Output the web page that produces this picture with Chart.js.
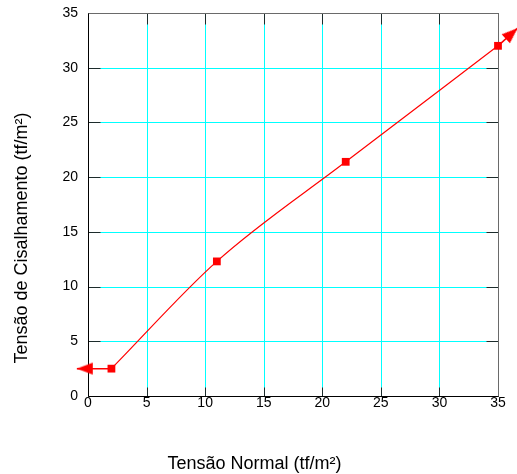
<!DOCTYPE html>
<html>
<head>
<meta charset="utf-8">
<script src="https://cdn.jsdelivr.net/npm/chart.js@4/dist/chart.umd.min.js"></script>
<style>
  html, body { margin: 0; padding: 0; background: #ffffff; }
  #wrap { width: 517px; height: 474px; }
</style>
</head>
<body>
<div id="wrap"><canvas id="chart" width="517" height="474"></canvas></div>
<script>
// Shear envelope: normal stress vs. shear stress (tf/m²)
const normalStress = [2, 11, 22, 35];
const shearStress = [2.5, 12.3, 21.4, 32];

// Envelope extensions past the tested range, drawn as arrows
const leftArrowX = [2, -0.95];
const leftArrowY = [2.5, 2.5];
const rightArrowX = [35, 36.68];
const rightArrowY = [32, 33.62];

// Axis tick values
const xTicks = [0, 5, 10, 15, 20, 25, 30, 35];
const yTicks = [0, 5, 10, 15, 20, 25, 30, 35];

const xTitle = 'Tensão Normal (tf/m²)';
const yTitle = 'Tensão de Cisalhamento (tf/m²)';

const FONT = '"Liberation Sans", Arial, sans-serif';
const RED = '#ff0000';
const GRID = '#00ffff';

function toPoints(xs, ys) {
  return xs.map((x, i) => ({ x: x, y: ys[i] }));
}

// Arrowhead bitmap: tip at the centre, pointing right
function makeArrowHead(len, halfW) {
  const c = document.createElement('canvas');
  const s = Math.ceil(len * 2 + 2);
  c.width = s; c.height = s;
  const g = c.getContext('2d');
  const cx = s / 2, cy = s / 2;
  g.fillStyle = RED;
  g.beginPath();
  g.moveTo(cx, cy);
  g.lineTo(cx - len, cy - halfW);
  g.lineTo(cx - len, cy + halfW);
  g.closePath();
  g.fill();
  return c;
}
const arrowHead = makeArrowHead(16, 6);

// Cyan grid, plot frame and short inward tick marks on all four sides
const frameGrid = {
  id: 'frameGrid',
  beforeDatasetsDraw(chart) {
    const { ctx, scales } = chart;
    const px = v => Math.round(scales.x.getPixelForValue(v)) + 0.5;
    const py = v => Math.round(scales.y.getPixelForValue(v)) + 0.5;
    const L = px(xTicks[0]), R = px(xTicks[xTicks.length - 1]);
    const B = py(yTicks[0]), T = py(yTicks[yTicks.length - 1]);
    ctx.save();
    ctx.lineWidth = 1;

    ctx.strokeStyle = GRID;
    ctx.beginPath();
    xTicks.slice(1, -1).forEach(v => { ctx.moveTo(px(v), T); ctx.lineTo(px(v), B); });
    yTicks.slice(1, -1).forEach(v => { ctx.moveTo(L, py(v)); ctx.lineTo(R, py(v)); });
    ctx.stroke();

    ctx.strokeStyle = '#1c2c2c';
    ctx.beginPath();
    xTicks.forEach(v => {
      ctx.moveTo(px(v), B); ctx.lineTo(px(v), B - 9);
      ctx.moveTo(px(v), T); ctx.lineTo(px(v), T + 11);
    });
    yTicks.forEach(v => {
      ctx.moveTo(L, py(v)); ctx.lineTo(L + 12, py(v));
      ctx.moveTo(R, py(v)); ctx.lineTo(R - 12, py(v));
    });
    ctx.stroke();

    ctx.strokeStyle = '#6a6a6a';
    ctx.beginPath();
    ctx.moveTo(L, T); ctx.lineTo(R, T); ctx.lineTo(R, B);
    ctx.stroke();

    ctx.strokeStyle = '#000';
    ctx.beginPath();
    ctx.moveTo(L, T); ctx.lineTo(L, B); ctx.lineTo(R, B);
    ctx.stroke();
    ctx.restore();
  }
};

// Axis titles
const axisTitles = {
  id: 'axisTitles',
  afterDraw(chart) {
    const ctx = chart.ctx;
    ctx.save();
    ctx.fillStyle = '#000';
    ctx.font = '18px ' + FONT;
    ctx.textAlign = 'center';
    ctx.textBaseline = 'middle';
    ctx.fillText(xTitle, 254.5, 464);
    ctx.translate(22, 238);
    ctx.rotate(-Math.PI / 2);
    ctx.fillText(yTitle, 0, 0);
    ctx.restore();
  }
};

new Chart(document.getElementById('chart'), {
  type: 'scatter',
  data: {
    datasets: [
      {
        data: toPoints(leftArrowX, leftArrowY),
        showLine: true,
        borderColor: RED,
        borderWidth: 1.5,
        pointStyle: arrowHead,
        pointRadius: [0, 20],
        pointRotation: 180,
        clip: false
      },
      {
        data: toPoints(rightArrowX, rightArrowY),
        showLine: true,
        borderColor: RED,
        borderWidth: 1.5,
        pointStyle: arrowHead,
        pointRadius: [0, 22],
        pointRotation: -42,
        clip: false
      },
      {
        data: toPoints(normalStress, shearStress),
        showLine: true,
        borderColor: RED,
        borderWidth: 1.2,
        cubicInterpolationMode: 'monotone',
        pointStyle: 'rect',
        pointRadius: 5.5,
        pointBackgroundColor: RED,
        pointBorderColor: RED,
        pointBorderWidth: 0,
        clip: false
      }
    ]
  },
  options: {
    responsive: false,
    animation: false,
    devicePixelRatio: 1,
    layout: { autoPadding: false, padding: { top: 13, right: 19, left: 0, bottom: 0 } },
    plugins: {
      legend: { display: false },
      tooltip: { enabled: false }
    },
    scales: {
      x: {
        type: 'linear',
        min: 0,
        max: 35,
        afterBuildTicks: s => { s.ticks = xTicks.map(v => ({ value: v })); },
        afterFit: s => { s.height = 78; s.paddingLeft = 0; s.paddingRight = 0; },
        ticks: {
          color: '#000',
          font: { family: FONT, size: 14 },
          padding: -1,
          maxRotation: 0
        },
        grid: { display: false, drawTicks: false },
        border: { display: false }
      },
      y: {
        type: 'linear',
        min: 0,
        max: 35,
        afterBuildTicks: s => { s.ticks = yTicks.map(v => ({ value: v })); },
        afterFit: s => { s.width = 88; s.paddingTop = 0; s.paddingBottom = 0; },
        ticks: {
          color: '#000',
          font: { family: FONT, size: 14 },
          padding: 10
        },
        grid: { display: false, drawTicks: false },
        border: { display: false }
      }
    }
  },
  plugins: [frameGrid, axisTitles]
});
</script>
</body>
</html>
